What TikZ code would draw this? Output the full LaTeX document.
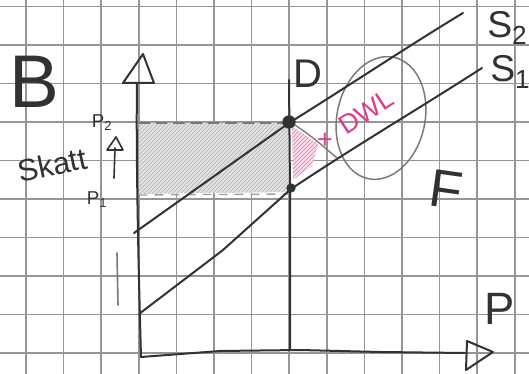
\documentclass[tikz,border=0pt]{standalone}
\usepackage{fontspec}
\setmainfont{Liberation Sans}
\usetikzlibrary{patterns}
\definecolor{ink}{RGB}{50,50,50}
\definecolor{gridc}{RGB}{150,150,150}
\definecolor{pinkc}{RGB}{220,60,140}
\definecolor{lightink}{RGB}{120,120,120}
\tikzset{
  gridline/.style={gridc, line width=1.1pt},
  inkline/.style={ink, line width=1.5pt, line cap=round, line join=round},
  thinink/.style={lightink, line width=1pt, line cap=round},
  lbl/.style={ink, inner sep=0pt},
}
\begin{document}
\begin{tikzpicture}[x=0.75pt,y=-0.75pt]
\useasboundingbox (0,0) rectangle (529,374);
\fill[white] (0,0) rectangle (529,374);
% grid
\foreach \k in {0,...,13} {\draw[gridline] ({26+37.6*\k},0) -- ({26+37.6*\k},374);}
\foreach \k in {0,...,9} {\draw[gridline] (0,{6.5+38.5*\k}) -- (529,{6.5+38.5*\k});}
% shaded tax revenue
\fill[gray!22] (139,123) -- (289,123) -- (290,192) -- (139,194) -- cycle;
\path[pattern=north east lines, pattern color=gray!60] (139,123) -- (289,123) -- (290,192) -- (139,194) -- cycle;
\draw[thinink, dashed, dash pattern=on 8pt off 5pt] (139,123) -- (288,123);
\draw[thinink, dashed, dash pattern=on 6pt off 6pt, lightink!70] (139,195) -- (289,194);
% pink DWL area
\fill[pinkc!18] (292,126) -- (318,144) -- (312,166) -- (293,180) -- cycle;
\path[pattern=north east lines, pattern color=pinkc!70] (292,126) -- (318,144) -- (312,166) -- (293,180) -- cycle;
% ellipse
\draw[thinink, line width=1.1pt] (381,118) ellipse [x radius=44, y radius=62, rotate=-12];
% axes
\coordinate (O) at (141,357);
\coordinate (ytop) at (137,83);
\coordinate (xend) at (465,353);
\draw[inkline] (O) .. controls (138,250) and (136,150) .. (ytop);
\draw[inkline] (123,83) -- (143,54) -- (154,83) -- cycle;
\draw[inkline] (O) -- (220,351) -- (300,350) -- (380,352) -- (xend);
\draw[inkline] (467,341) -- (493,352) -- (466,370) -- cycle;
% D line
\coordinate (Dbot) at (290,350);
\coordinate (Dtop) at (289,80);
\draw[inkline] (Dbot) -- (290,190) -- (Dtop);
% supply curves
\draw[inkline] (134,233) -- (289,123) .. controls (350,85) and (410,45) .. (463,13);
\draw[inkline] (139,314) -- (223,250) -- (291,189) .. controls (360,143) and (420,108) .. (482,68);
% gray line from upper point to S1
\draw[thinink] (290,122) .. controls (310,134) and (325,148) .. (337,158);
% points
\node[circle, fill=ink, minimum size=10pt, inner sep=0pt] (p2pt) at (289,122) {};
\node[circle, fill=ink, minimum size=7pt, inner sep=0pt] (p1pt) at (291,188) {};
% labels
\node[lbl, font=\fontsize{56}{58}\selectfont] (B) at (34,82) {B};
\node[lbl, font=\fontsize{30}{32}\selectfont] (D) at (308,74) {D};
\node[lbl, font=\fontsize{28}{30}\selectfont, anchor=west] (S2) at (487,28) {S\textsubscript{2}};
\node[lbl, font=\fontsize{28}{30}\selectfont, anchor=west] (S1) at (490,72) {S\textsubscript{1}};
\node[lbl, font=\fontsize{40}{42}\selectfont, rotate=-8] (F) at (446,190) {F};
\node[lbl, font=\fontsize{34}{36}\selectfont] (xl) at (500,309) {P};
\node[lbl, font=\fontsize{23}{25}\selectfont, rotate=12] (skatt) at (52,165) {Skatt};
\node[lbl, font=\fontsize{14}{15}\selectfont] (P2) at (102,123) {P\textsubscript{2}};
\node[lbl, font=\fontsize{14}{15}\selectfont] (P1) at (97,200) {P\textsubscript{1}};
\coordinate (arrb) at (114,178);
\coordinate (arrt) at (115,148);
\draw[inkline, line width=1.2pt] (arrb) -- (arrt);
\draw[inkline, line width=1.2pt] (107,150) -- (116,137) -- (123,150) -- cycle;
\node[lbl, pinkc, font=\fontsize{20}{22}\selectfont] (plus) at (325,141) {+};
\node[lbl, pinkc, font=\fontsize{20}{22}\selectfont, rotate=33] (dwl) at (366,112) {DWL};
% small stroke
\draw[thinink, line width=1.2pt] (117,253) -- (118,305);
\end{tikzpicture}
\end{document}
